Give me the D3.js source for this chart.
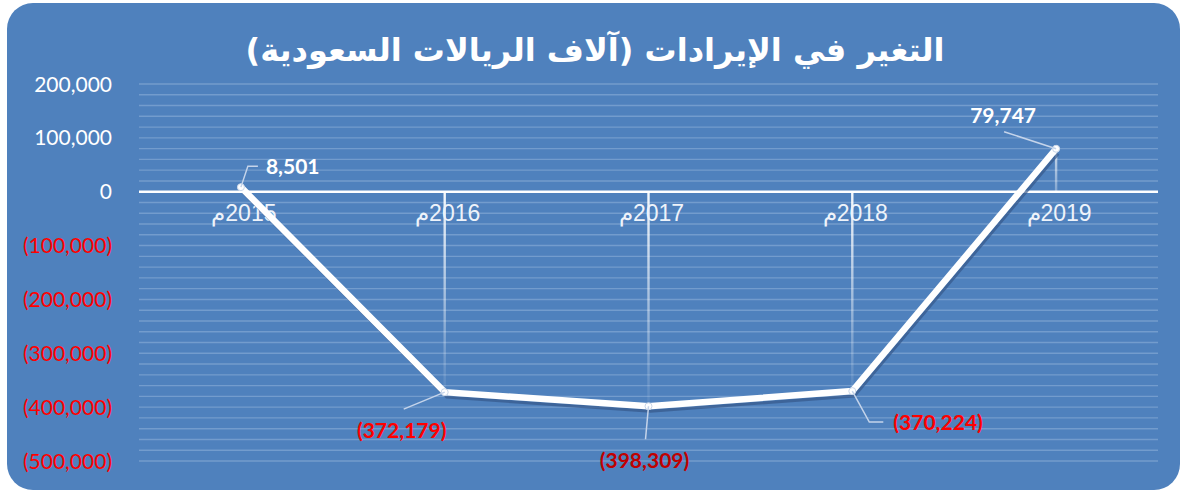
<!DOCTYPE html>
<html>
<head>
<meta charset="utf-8">
<script src="https://cdn.jsdelivr.net/npm/d3@7"></script>
<style>
  body { margin: 0; background: #fff; }
  svg { display: block; }
</style>
</head>
<body>
<svg id="chart" width="1185" height="494"></svg>
<script>
// chart data
var title = "التغير في الإيرادات (آلاف الريالات السعودية)";
var years = ["2015م", "2016م", "2017م", "2018م", "2019م"];
var values = [8501, -372179, -398309, -370224, 79747];
var labelTexts = ["8,501", "(372,179)", "(398,309)", "(370,224)", "79,747"];
var yTicks = [200000, 100000, 0, -100000, -200000, -300000, -400000, -500000];

var svg = d3.select("#chart");
var blue = "#4F81BD";

svg.append("rect")
    .attr("x", 7).attr("y", 3)
    .attr("width", 1173).attr("height", 487)
    .attr("rx", 26).attr("ry", 26)
    .attr("fill", blue);

var left = 139, right = 1158;

var x = d3.scaleBand()
    .domain(years)
    .range([left, right]);

var y = d3.scaleLinear()
    .domain([-500000, 200000])
    .range([461, 84]);

var cx = function(i) { return x(years[i]) + x.bandwidth() / 2; };

// gradient for drop lines
var defs = svg.append("defs");
var g1 = defs.append("linearGradient").attr("id", "fadeDown")
    .attr("x1", 0).attr("y1", 0).attr("x2", 0).attr("y2", 1);
g1.append("stop").attr("offset", "0%").attr("stop-color", "#fff").attr("stop-opacity", 0.95);
g1.append("stop").attr("offset", "100%").attr("stop-color", "#fff").attr("stop-opacity", 0.05);
var g2 = defs.append("linearGradient").attr("id", "fadeUp")
    .attr("x1", 0).attr("y1", 0).attr("x2", 0).attr("y2", 1);
g2.append("stop").attr("offset", "0%").attr("stop-color", "#fff").attr("stop-opacity", 0.7);
g2.append("stop").attr("offset", "100%").attr("stop-color", "#fff").attr("stop-opacity", 0.3);

// gridlines every 20,000
var grid = d3.range(-500000, 200001, 20000).filter(function(v) { return v != 0; });
svg.append("g").selectAll("line")
    .data(grid)
    .enter()
    .append("line")
    .attr("x1", left).attr("x2", right)
    .attr("y1", function(d) { return y(d); })
    .attr("y2", function(d) { return y(d); })
    .style("stroke", "#739CCD")
    .style("stroke-width", 1.4);

// y axis labels
svg.append("g").selectAll("text")
    .data(yTicks)
    .enter()
    .append("text")
    .attr("x", 112)
    .attr("y", function(d) { return y(d) + 7.5; })
    .attr("text-anchor", "end")
    .style("font-family", "Lato, 'Open Sans', sans-serif")
    .style("font-size", "21px")
    .style("fill", function(d) { return d < 0 ? "#FF0000" : "#FFFFFF"; })
    .text(function(d) {
        var s = d3.format(",")(Math.abs(d));
        return d < 0 ? "(" + s + ")" : s;
    });

// drop lines
svg.append("g").selectAll("rect")
    .data(values)
    .enter()
    .append("rect")
    .attr("x", function(d, i) { return cx(i) - 1.2; })
    .attr("width", 2.4)
    .attr("y", function(d) { return Math.min(y(d), y(0)); })
    .attr("height", function(d) { return Math.abs(y(d) - y(0)); })
    .attr("fill", function(d) { return d < 0 ? "url(#fadeDown)" : "url(#fadeUp)"; });

// zero line
svg.append("line")
    .attr("x1", left).attr("x2", right)
    .attr("y1", y(0)).attr("y2", y(0))
    .style("stroke", "#fff")
    .style("stroke-width", 2.5);

// category labels
svg.append("g").selectAll("text")
    .data(years)
    .enter()
    .append("text")
    .attr("x", function(d, i) { return cx(i) + 3; })
    .attr("y", y(0) + 29)
    .attr("text-anchor", "middle")
    .attr("direction", "rtl")
    .style("font-family", "'Liberation Sans', Arial, sans-serif")
    .style("font-size", "23px")
    .style("letter-spacing", "2.5px")
    .style("fill", "#EEF3FA")
    .text(function(d) { return d; });

// line + shadow
var line = d3.line()
    .x(function(d, i) { return cx(i); })
    .y(function(d) { return y(d); });

svg.append("path")
    .datum(values)
    .attr("d", line)
    .attr("transform", "translate(2,5)")
    .style("fill", "none")
    .style("stroke", "#36598A")
    .style("stroke-opacity", 0.7)
    .style("stroke-width", 3);

svg.append("path")
    .datum(values)
    .attr("d", line)
    .style("fill", "none")
    .style("stroke", "#fff")
    .style("stroke-width", 6.5)
    .style("stroke-linejoin", "miter")
    .style("stroke-linecap", "round");

svg.append("g").selectAll("circle")
    .data(values)
    .enter()
    .append("circle")
    .attr("cx", function(d, i) { return cx(i); })
    .attr("cy", function(d) { return y(d); })
    .attr("r", 3.5)
    .style("fill", "#fff")
    .style("stroke", "#C9D6E8")
    .style("stroke-width", 1);

// data labels with leader lines (offsets from the point)
var leaders = [
    [[7, -21], [17, -21]],
    [[-41, 17]],
    [[-3, 33]],
    [[17, 31], [31, 31]],
    [[-52, -17]]
];
var labelAt = [
    [25, -13, "start"],
    [-43, 46, "middle"],
    [-4, 62, "middle"],
    [41, 39, "start"],
    [-53, -26, "middle"]
];
var labelColor = ["#FFFFFF", "#FF0000", "#C00000", "#FF0000", "#FFFFFF"];

values.forEach(function(v, i) {
    var px = cx(i), py = y(v);
    var pts = [[px, py]].concat(leaders[i].map(function(p) { return [px + p[0], py + p[1]]; }));
    svg.append("path")
        .attr("d", d3.line()(pts))
        .style("fill", "none")
        .style("stroke", "#C5D4EA")
        .style("stroke-width", 1.5);
    svg.append("text")
        .attr("x", px + labelAt[i][0])
        .attr("y", py + labelAt[i][1])
        .attr("text-anchor", labelAt[i][2])
        .style("font-family", "Lato, 'Open Sans', sans-serif")
        .style("font-weight", "bold")
        .style("font-size", "21px")
        .style("fill", labelColor[i])
        .text(labelTexts[i]);
});

// title
svg.append("text")
    .attr("x", 595)
    .attr("y", 61)
    .attr("text-anchor", "middle")
    .attr("direction", "rtl")
    .style("font-family", "'DejaVu Sans', sans-serif")
    .style("font-weight", "bold")
    .style("font-size", "32px")
    .style("fill", "#fff")
    .text(title);
</script>
</body>
</html>
